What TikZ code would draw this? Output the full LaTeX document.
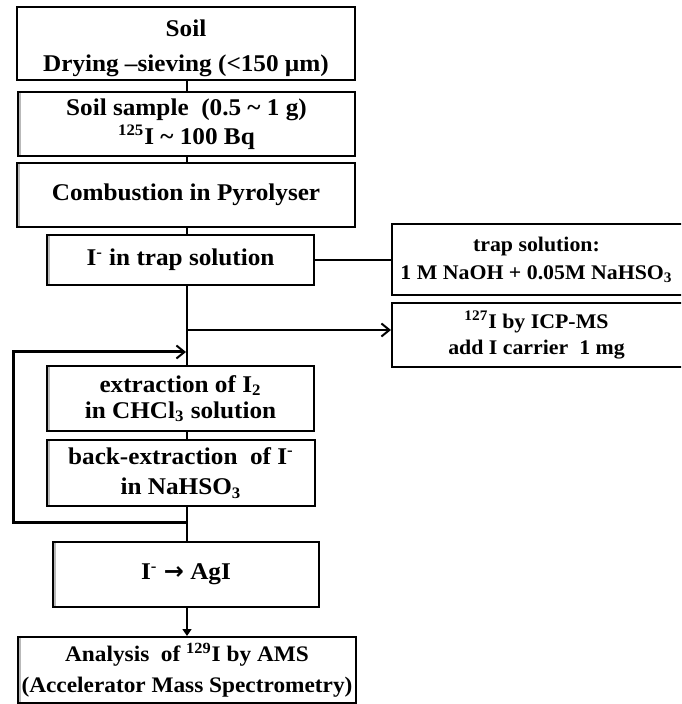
\documentclass[tikz,border=0pt]{standalone}
\usepackage{fontspec}
\setmainfont{Liberation Serif}[FakeStretch=1.05]
\newfontfamily\arrfont{DejaVu Sans}
\usetikzlibrary{arrows.meta,calc}
\newcommand\mainfnt{\bfseries\fontsize{12}{14.5}\selectfont}
\newcommand\analfnt{\bfseries\fontsize{11.1}{14.5}\selectfont}
\newcommand\sidefnt{\bfseries\fontsize{10.4}{14}\selectfont}
\newcommand\tld{\char"7E\relax}
\begin{document}
\begin{tikzpicture}[x=0.5pt,y=-0.5pt,
  box/.style={draw=black, line width=1pt, inner sep=0pt, align=center, font=\mainfnt},
  shaded/.style={path picture={\fill[gray!55] (path picture bounding box.south west) rectangle ([xshift=1.7pt]path picture bounding box.north west);}},
  rbox/.style={draw=black, line width=1pt, inner sep=0pt, minimum width=154pt},
  rtext/.style={inner sep=0pt, align=center, font=\sidefnt},
  conn/.style={draw=black, line width=0.8pt},
  fb/.style={draw=black, line width=1.5pt},
  barb/.style={-{Straight Barb[length=4pt,width=6.5pt,line width=1pt]}},
  tri/.style={-{Triangle[length=3.5pt,width=4.5pt]}}]
\useasboundingbox (0,0) rectangle (681,704);
\fill[white] (0,0) rectangle (681,704);
\clip (0,0) rectangle (681,704);
\coordinate (sp) at (187,0);
% main column
\node[box, minimum width=169pt, minimum height=36.5pt] (soil) at (186,43.5)
  {\rule{0pt}{13pt}Soil\\[3pt]Drying --sieving (<150 µm)};
\node[box, shaded, minimum width=168.5pt, minimum height=32pt] (sample) at (186.5,124)
  {Soil sample\ \ (0.5 \tld{} 1 g)\\\textsuperscript{125}I \tld{} 100 Bq};
\node[box, shaded, minimum width=169pt, minimum height=32pt] (comb) at (186,195)
  {Combustion in Pyrolyser};
\node[box, shaded, minimum width=133.5pt, minimum height=25pt] (trap) at (180.5,260)
  {I\textsuperscript{-} in trap solution};
\node[box, shaded, minimum width=133.5pt, minimum height=32.5pt] (extr) at (180.5,398.5)
  {extraction of I\textsubscript{2}\\[-1.5pt]in CHCl\textsubscript{3} solution};
\node[box, shaded, minimum width=134pt, minimum height=33pt] (back) at (181,473)
  {back-extraction\ \ of I\textsuperscript{-}\\[0.5pt]in NaHSO\textsubscript{3}};
\node[box, shaded, minimum width=133pt, minimum height=32.5pt] (agi) at (186,574.5)
  {I\textsuperscript{-} {\arrfont\bfseries →} AgI};
\node[box, shaded, minimum width=169pt, minimum height=33pt, font=\analfnt] (anal) at (187,670)
  {Analysis\ \ of \textsuperscript{129}I by AMS\\[1pt](Accelerator Mass Spectrometry)};
% side boxes
\node[rbox, minimum height=35.5pt] (trapsol) at (546,259.5) {};
\node[rtext] (trapsoltxt) at (536.5,259.5)
  {trap solution:\\1 M NaOH + 0.05M NaHSO\textsubscript{3}};
\node[rbox, minimum height=32pt] (icp) at (546,335) {};
\node[rtext] (icptxt) at (536.5,335)
  {\textsuperscript{127}I by ICP-MS\\[-1pt]add I carrier\ \ 1 mg};
% connectors
\draw[conn] (soil.south -| sp) -- (sample.north -| sp);
\draw[conn] (sample.south -| sp) -- (comb.north -| sp);
\draw[conn] (comb.south -| sp) -- (trap.north -| sp);
\draw[conn] (trap.east) -- (trap.east -| trapsol.west);
\draw[conn] (trap.south -| sp) -- (extr.north -| sp);
\coordinate (br) at (187,330);
\draw[conn, barb] (br) -- (br -| icp.west);
\draw[conn] (extr.south -| sp) -- (back.north -| sp);
\draw[conn] (back.south -| sp) -- (agi.north -| sp);
\coordinate (fbj) at (187,522);
\coordinate (fbl) at (13,522);
\coordinate (fbt) at (13,352);
\coordinate (fbe) at (186,352);
\draw[fb, barb] (fbj) -- (fbl) -- (fbt) -- (fbe);
\draw[conn, tri] (agi.south -| sp) -- (anal.north -| sp);
\end{tikzpicture}
\end{document}
